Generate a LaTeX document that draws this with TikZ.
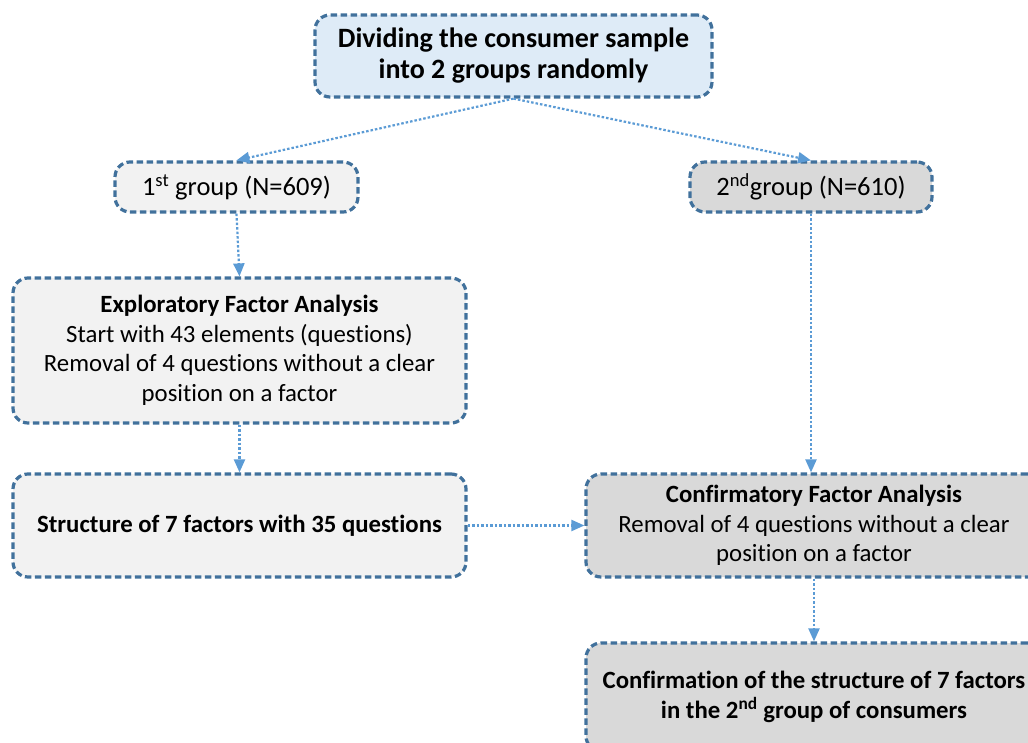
\documentclass[tikz,border=0pt]{standalone}
\usepackage{fontspec}
\setmainfont[Ligatures=NoCommon]{Carlito}
\usetikzlibrary{arrows.meta}
\definecolor{bordercol}{HTML}{41719C}
\definecolor{arrowcol}{HTML}{5B9BD5}
\definecolor{topfill}{HTML}{DEEBF7}
\definecolor{lightfill}{HTML}{F2F2F2}
\definecolor{darkfill}{HTML}{D9D9D9}
\tikzset{
  box/.style={draw=bordercol, line width=3.2pt, dash pattern=on 6.5pt off 3.5pt,
    rounded corners=15pt, align=center, inner sep=0pt, font=\fontsize{24.8}{29.5}\selectfont},
  conn/.style={draw=arrowcol, line width=2.2pt, dash pattern=on 2.5pt off 2pt,
    -{Triangle[length=13pt,width=11pt]}}
}
\begin{document}
\begin{tikzpicture}[x=1pt,y=-1pt]
\useasboundingbox (0,0) rectangle (1028,743);
\node[box, fill=topfill, minimum width=397pt, minimum height=82pt,
  font=\bfseries\fontsize{28}{31}\selectfont] (top) at (513.5,56)
  {Dividing the consumer sample\\into 2 groups randomly};
\node[box, fill=lightfill, minimum width=243pt, minimum height=50pt,
  font=\fontsize{26.5}{30}\selectfont] (g1) at (236.5,187)
  {1\textsuperscript{st} group (N=609)};
\node[box, fill=darkfill, minimum width=242pt, minimum height=50pt,
  font=\fontsize{26.5}{30}\selectfont] (g2) at (811,187)
  {2\textsuperscript{nd}group (N=610)};
\node[box, fill=lightfill, minimum width=453pt, minimum height=145pt] (efa) at (239.5,350.5)
  {\textbf{Exploratory Factor Analysis}\\Start with 43 elements (questions)\\Removal of 4 questions without a clear\\position on a factor};
\node[box, fill=lightfill, minimum width=453pt, minimum height=103pt] (str) at (239.5,525.5)
  {\textbf{Structure of 7 factors with 35 questions}};
\node[box, fill=darkfill, minimum width=456pt, minimum height=103pt] (cfa) at (814,525.5)
  {\textbf{Confirmatory Factor Analysis}\\Removal of 4 questions without a clear\\position on a factor};
\node[box, fill=darkfill, minimum width=456pt, minimum height=108pt] (conf) at (814,697)
  {\textbf{Confirmation of the structure of 7 factors}\\\textbf{in the 2\textsuperscript{nd} group of consumers}};
\draw[conn] (top.south) -- (g1.north);
\draw[conn] (top.south) -- (g2.north);
\draw[conn] (g1.south) -- (efa.north);
\draw[conn] (efa.south) -- (str.north);
\draw[conn] (g2.south) -- (g2.south |- cfa.north);
\draw[conn] (str.east) -- (cfa.west);
\draw[conn] (cfa.south) -- (conf.north);
\end{tikzpicture}
\end{document}
